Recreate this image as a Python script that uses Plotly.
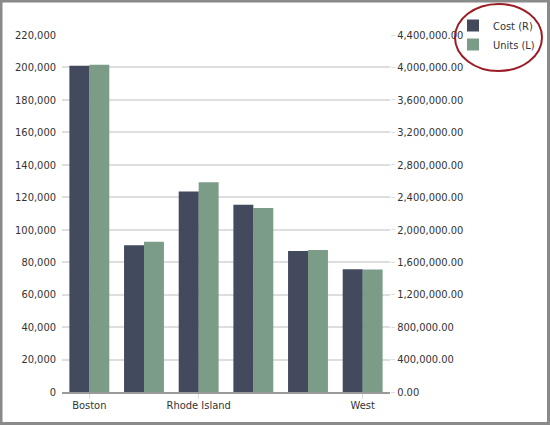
import plotly.graph_objects as go

# Data
categories = ["Boston", "", "Rhode Island", "", "", "West"]
cost_values = [4020000, 1810000, 2470000, 2308000, 1737000, 1514000]   # right axis
unit_values = [201600, 92600, 129200, 113400, 87450, 75500]            # left axis
left_ticks = list(range(0, 220001, 20000))
right_ticks = list(range(0, 4400001, 400000))

W, H = 550, 425
L, R, T, B = 62, 160, 35, 33
pw, ph = W - L - R, H - T - B

def px(x):
    return (x - L) / pw

def py(y):
    return (H - B - y) / ph

FONT = "'DejaVu Sans Condensed', 'DejaVu Sans', sans-serif"
DARK = "#434a5e"
GREEN = "#7b9d88"

xs = list(range(len(categories)))

fig = go.Figure()
fig.add_trace(go.Bar(x=xs, y=cost_values, name="Cost (R)", yaxis="y2",
                     offsetgroup="1", marker=dict(color=DARK, line=dict(width=0))))
fig.add_trace(go.Bar(x=xs, y=unit_values, name="Units (L)", yaxis="y",
                     offsetgroup="2", marker=dict(color=GREEN, line=dict(width=0))))

shown = [i for i, c in enumerate(categories) if c]

fig.update_layout(
    width=W, height=H, autosize=False,
    margin=dict(l=L, r=R, t=T, b=B, pad=0, autoexpand=False),
    paper_bgcolor="white", plot_bgcolor="white",
    font=dict(family=FONT, size=11, color="#333333"),
    barmode="group", bargap=0.27, bargroupgap=0,
    xaxis=dict(range=[-0.5, len(categories) - 0.5], tickvals=shown,
               ticktext=[categories[i] for i in shown], automargin=False,
               showgrid=False, zeroline=False, showline=True,
               linecolor="#9a9a9a", linewidth=1.5,
               ticks="outside", ticklen=5, tickcolor="#dddddd", tickwidth=1,
               ticklabelstandoff=-3),
    yaxis=dict(range=[0, 220000], tickvals=left_ticks, tickformat=",d",
               automargin=False,
               showgrid=True, gridcolor="#dedede", gridwidth=1.5,
               zeroline=False, showline=False, ticks="", ticklabelstandoff=5),
    yaxis2=dict(range=[0, 4400000], tickvals=right_ticks, tickformat=",.2f",
                automargin=False,
                overlaying="y", side="right", showgrid=False, zeroline=False,
                showline=False, ticks="outside", ticklen=4, tickcolor="#dddddd",
                tickwidth=1),
    showlegend=True,
    legend=dict(xref="container", yref="container",
                x=453 / W, y=1 - 11 / H, xanchor="left", yanchor="top",
                bgcolor="rgba(0,0,0,0)", font=dict(size=11, color="#333333"),
                itemwidth=30, tracegroupgap=0),
    shapes=[
        dict(type="circle", xref="paper", yref="paper",
             x0=px(455), x1=px(542), y0=py(71), y1=py(4),
             line=dict(color="#9b1c24", width=2)),
        dict(type="rect", xref="paper", yref="paper",
             x0=px(1), x1=px(548.5), y0=py(423.5), y1=py(1),
             line=dict(color="#8a8a8a", width=3)),
    ],
)

fig.write_html("out.html",
               config={"responsive": False, "displayModeBar": False},
               post_script="document.body.style.margin='0';document.body.style.overflow='hidden';")
